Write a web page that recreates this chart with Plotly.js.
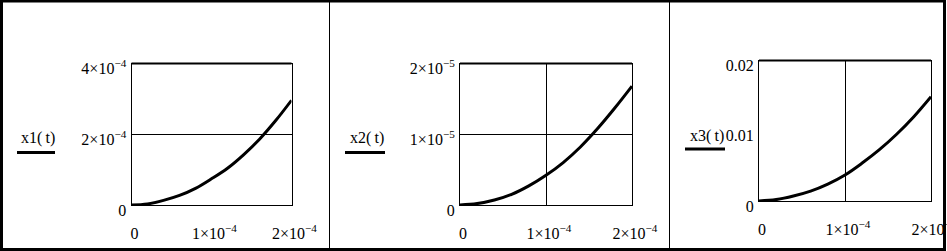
<!DOCTYPE html>
<html>
<head>
<meta charset="utf-8">
<script src="https://cdn.plot.ly/plotly-3.0.1.min.js"></script>
<style>
  html, body { margin: 0; padding: 0; background: #fff; }
  #chart { width: 947px; height: 251px; }
</style>
</head>
<body>
<div id="chart"></div>
<script>
// ---- data ----
const tValues = [0, 2e-5, 4e-5, 6e-5, 8e-5, 1e-4, 1.2e-4, 1.4e-4, 1.6e-4, 1.8e-4, 2e-4];
const x1Values = [0, 3e-6, 1.3e-5, 2.7e-5, 4.7e-5, 7.4e-5, 1.04e-4, 1.42e-4, 1.86e-4, 2.38e-4, 2.96e-4];
const x2Values = [0, 2e-7, 7e-7, 1.5e-6, 2.7e-6, 4.2e-6, 6.0e-6, 8.2e-6, 1.08e-5, 1.37e-5, 1.68e-5];
const x3Values = [0, 2e-4, 7e-4, 1.4e-3, 2.4e-3, 3.7e-3, 5.4e-3, 7.3e-3, 9.5e-3, 1.2e-2, 1.485e-2];
const seriesNames = ["x1(\u2009t)", "x2(\u2009t)", "x3(\u2009t)"];

const xTickVals = [0, 1e-4, 2e-4];
const xTickText = ["0", "1\u00d710<sup>\u22124</sup>", "2\u00d710<sup>\u22124</sup>"];
const y1TickVals = [0, 2e-4, 4e-4];
const y1TickText = ["0", "2\u00d710<sup>\u22124</sup>", "4\u00d710<sup>\u22124</sup>"];
const y2TickVals = [0, 1e-5, 2e-5];
const y2TickText = ["0", "1\u00d710<sup>\u22125</sup>", "2\u00d710<sup>\u22125</sup>"];
const y3TickVals = [0, 0.01, 0.02];
const y3TickText = ["0", "0.01", "0.02"];

// ---- layout helpers (pixel -> paper) ----
const W = 947, H = 251;
const px = v => v / W;
const py = v => (H - v) / H;
const font = { family: "Liberation Serif, Times New Roman, serif", size: 16, color: "#000" };

function xAxis(domain, showGrid) {
  return {
    domain: domain, range: [0, 2e-4], tickmode: "array",
    tickvals: xTickVals, ticktext: xTickText,
    showgrid: showGrid, gridcolor: "#000", gridwidth: 1,
    zeroline: false, showline: true, mirror: true, linecolor: "#000", linewidth: 1,
    ticks: "", tickfont: font, ticklabeloverflow: "allow",
    ticklabelstandoff: 14, ticklabelshift: 3, fixedrange: true
  };
}
function yAxis(domain, vals, text, showGrid, rng) {
  return {
    domain: domain, range: rng, tickmode: "array",
    tickvals: vals, ticktext: text,
    showgrid: showGrid, gridcolor: "#000", gridwidth: 1,
    zeroline: false, showline: true, mirror: true, linecolor: "#000", linewidth: 1,
    ticks: "", tickfont: font, ticklabeloverflow: "allow",
    ticklabelstandoff: 1, ticklabelshift: 5, fixedrange: true
  };
}

const lineStyle = { color: "#000", width: 3, shape: "spline" };
const traces = [
  { x: tValues, y: x1Values, xaxis: "x", yaxis: "y", mode: "lines", line: lineStyle, name: seriesNames[0], showlegend: false, hoverinfo: "skip" },
  { x: tValues, y: x2Values, xaxis: "x2", yaxis: "y2", mode: "lines", line: lineStyle, name: seriesNames[1], showlegend: false, hoverinfo: "skip" },
  { x: tValues, y: x3Values, xaxis: "x3", yaxis: "y3", mode: "lines", line: lineStyle, name: seriesNames[2], showlegend: false, hoverinfo: "skip" }
];

const yDom12 = [py(205), py(63.5)];
const yDom3 = [py(201), py(60.5)];

const legendSpec = [
  { tx: 38, ty: 138, lx0: 17, lx1: 55, ly: 152.5 },
  { tx: 367, ty: 138, lx0: 345, lx1: 385, ly: 152.5 },
  { tx: 707, ty: 135.5, lx0: 685, lx1: 725, ly: 149 }
];

const annotations = legendSpec.map((s, i) => ({
  xref: "paper", yref: "paper", x: px(s.tx), y: py(s.ty),
  xanchor: "center", yanchor: "middle", showarrow: false,
  text: seriesNames[i], font: font
}));

const shapes = [];
legendSpec.forEach(s => shapes.push({
  type: "line", xref: "paper", yref: "paper",
  x0: px(s.lx0), x1: px(s.lx1), y0: py(s.ly), y1: py(s.ly),
  line: { color: "#000", width: 3 }, layer: "above"
}));
// thick top edge of each plot box
["", "2", "3"].forEach(k => shapes.push({
  type: "line", xref: "x" + k + " domain", yref: "y" + k + " domain",
  x0: 0, x1: 1, y0: 1, y1: 1, line: { color: "#000", width: 2 }, layer: "above"
}));
// outer frame and panel separators
shapes.push({ type: "rect", xref: "paper", yref: "paper",
  x0: px(1.5), x1: px(944.5), y0: py(249.5), y1: py(1),
  line: { color: "#000", width: 3 }, layer: "above" });
[329.5, 669.5].forEach(x => shapes.push({
  type: "line", xref: "paper", yref: "paper", x0: px(x), x1: px(x), y0: 0, y1: 1,
  line: { color: "#000", width: 1 }, layer: "above"
}));

const layout = {
  width: W, height: H,
  margin: { l: 0, r: 0, t: 0, b: 0, pad: 0 },
  paper_bgcolor: "#fff", plot_bgcolor: "#fff",
  font: font, showlegend: false,
  xaxis: Object.assign(xAxis([px(131.5), px(291.5)], false), { anchor: "y" }),
  yaxis: Object.assign(yAxis(yDom12, y1TickVals, y1TickText, true, [0, 4e-4]), { anchor: "x" }),
  xaxis2: Object.assign(xAxis([px(460), px(632)], true), { anchor: "y2" }),
  yaxis2: Object.assign(yAxis(yDom12, y2TickVals, y2TickText, true, [0, 2e-5]), { anchor: "x2" }),
  xaxis3: Object.assign(xAxis([px(759), px(931)], true), { anchor: "y3" }),
  yaxis3: Object.assign(yAxis(yDom3, y3TickVals, y3TickText, false, [0, 0.02]), { anchor: "x3" }),
  annotations: annotations,
  shapes: shapes
};

Plotly.newPlot("chart", traces, layout, { staticPlot: true, displayModeBar: false });
</script>
</body>
</html>
